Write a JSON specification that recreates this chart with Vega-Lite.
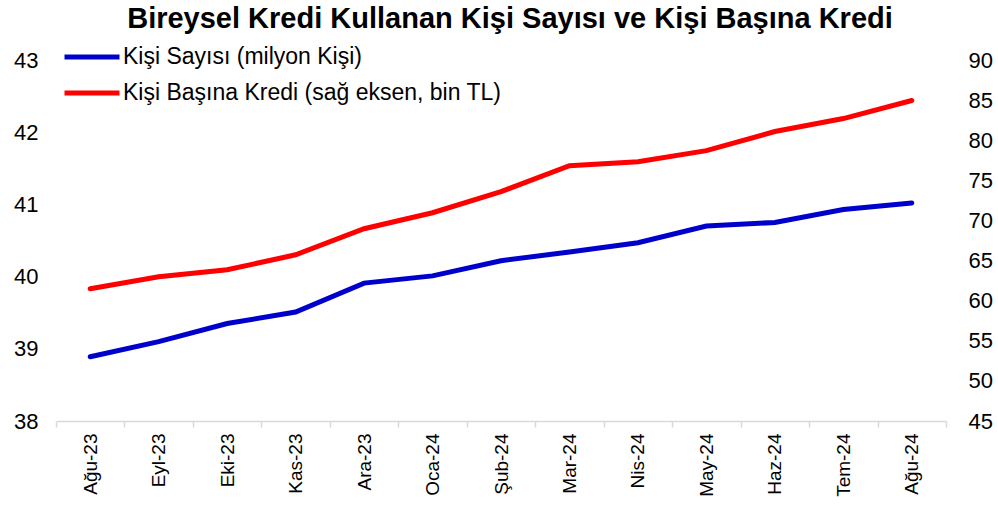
{
  "$schema": "https://vega.github.io/schema/vega-lite/v6.json",
  "autosize": {"type": "none"},
  "width": 890,
  "height": 361,
  "padding": {"left": 56, "top": 60, "right": 52, "bottom": 91},
  "background": "white",
  "title": {
    "text": "Bireysel Kredi Kullanan Kişi Sayısı ve Kişi Başına Kredi",
    "font": "Liberation Sans",
    "fontSize": 29,
    "fontWeight": "bold",
    "color": "black",
    "anchor": "middle",
    "dx": 9,
    "offset": 13
  },
  "config": {
    "view": {"stroke": null},
    "font": "Liberation Sans"
  },
  "data": {
    "values": [
      {"ay": "Ağu-23", "seri": "Kişi Sayısı (milyon Kişi)", "deger": 38.89},
      {"ay": "Eyl-23", "seri": "Kişi Sayısı (milyon Kişi)", "deger": 39.10},
      {"ay": "Eki-23", "seri": "Kişi Sayısı (milyon Kişi)", "deger": 39.35},
      {"ay": "Kas-23", "seri": "Kişi Sayısı (milyon Kişi)", "deger": 39.51},
      {"ay": "Ara-23", "seri": "Kişi Sayısı (milyon Kişi)", "deger": 39.91},
      {"ay": "Oca-24", "seri": "Kişi Sayısı (milyon Kişi)", "deger": 40.01},
      {"ay": "Şub-24", "seri": "Kişi Sayısı (milyon Kişi)", "deger": 40.22},
      {"ay": "Mar-24", "seri": "Kişi Sayısı (milyon Kişi)", "deger": 40.34},
      {"ay": "Nis-24", "seri": "Kişi Sayısı (milyon Kişi)", "deger": 40.47},
      {"ay": "May-24", "seri": "Kişi Sayısı (milyon Kişi)", "deger": 40.70},
      {"ay": "Haz-24", "seri": "Kişi Sayısı (milyon Kişi)", "deger": 40.75},
      {"ay": "Tem-24", "seri": "Kişi Sayısı (milyon Kişi)", "deger": 40.93},
      {"ay": "Ağu-24", "seri": "Kişi Sayısı (milyon Kişi)", "deger": 41.02},
      {"ay": "Ağu-23", "seri": "Kişi Başına Kredi (sağ eksen, bin TL)", "deger": 61.48},
      {"ay": "Eyl-23", "seri": "Kişi Başına Kredi (sağ eksen, bin TL)", "deger": 62.98},
      {"ay": "Eki-23", "seri": "Kişi Başına Kredi (sağ eksen, bin TL)", "deger": 63.85},
      {"ay": "Kas-23", "seri": "Kişi Başına Kredi (sağ eksen, bin TL)", "deger": 65.72},
      {"ay": "Ara-23", "seri": "Kişi Başına Kredi (sağ eksen, bin TL)", "deger": 68.97},
      {"ay": "Oca-24", "seri": "Kişi Başına Kredi (sağ eksen, bin TL)", "deger": 70.96},
      {"ay": "Şub-24", "seri": "Kişi Başına Kredi (sağ eksen, bin TL)", "deger": 73.59},
      {"ay": "Mar-24", "seri": "Kişi Başına Kredi (sağ eksen, bin TL)", "deger": 76.83},
      {"ay": "Nis-24", "seri": "Kişi Başına Kredi (sağ eksen, bin TL)", "deger": 77.33},
      {"ay": "May-24", "seri": "Kişi Başına Kredi (sağ eksen, bin TL)", "deger": 78.70},
      {"ay": "Haz-24", "seri": "Kişi Başına Kredi (sağ eksen, bin TL)", "deger": 81.08},
      {"ay": "Tem-24", "seri": "Kişi Başına Kredi (sağ eksen, bin TL)", "deger": 82.70},
      {"ay": "Ağu-24", "seri": "Kişi Başına Kredi (sağ eksen, bin TL)", "deger": 84.95}
    ]
  },
  "encoding": {
    "x": {
      "field": "ay",
      "type": "nominal",
      "sort": null,
      "scale": {"paddingInner": 0, "paddingOuter": 0},
      "axis": {
        "title": null,
        "labelAngle": 270,
        "labelFont": "Liberation Sans",
        "labelFontSize": 19,
        "labelColor": "black",
        "labelPadding": 6,
        "domainColor": "#d9d9d9",
        "domainWidth": 1.5,
        "tickColor": "#d9d9d9",
        "tickWidth": 1.5,
        "tickSize": 6,
        "tickBand": "extent",
        "grid": false
      }
    },
    "color": {
      "field": "seri",
      "type": "nominal",
      "scale": {
        "domain": ["Kişi Sayısı (milyon Kişi)", "Kişi Başına Kredi (sağ eksen, bin TL)"],
        "range": ["#0000CC", "#FF0000"]
      },
      "legend": {
        "title": null,
        "orient": "none",
        "legendX": 6,
        "legendY": -13,
        "symbolType": "stroke",
        "symbolSize": 3025,
        "symbolStrokeWidth": 5,
        "clipHeight": 20,
        "rowPadding": 13,
        "labelOffset": 1,
        "labelFont": "Liberation Sans",
        "labelFontSize": 23,
        "labelColor": "black",
        "labelLimit": 600
      }
    }
  },
  "layer": [
    {
      "transform": [{"filter": "datum.seri === 'Kişi Sayısı (milyon Kişi)'"}],
      "mark": {"type": "line", "strokeWidth": 5, "strokeCap": "round"},
      "encoding": {
        "y": {
          "field": "deger",
          "type": "quantitative",
          "scale": {"domain": [38, 43], "zero": false, "nice": false},
          "axis": {
            "title": null,
            "orient": "left",
            "values": [38, 39, 40, 41, 42, 43],
            "domain": false,
            "ticks": false,
            "grid": false,
            "labelFont": "Liberation Sans",
            "labelFontSize": 22,
            "labelColor": "black",
            "labelPadding": 18
          }
        }
      }
    },
    {
      "transform": [{"filter": "datum.seri === 'Kişi Başına Kredi (sağ eksen, bin TL)'"}],
      "mark": {"type": "line", "strokeWidth": 5, "strokeCap": "round"},
      "encoding": {
        "y": {
          "field": "deger",
          "type": "quantitative",
          "scale": {"domain": [45, 90], "zero": false, "nice": false},
          "axis": {
            "title": null,
            "orient": "right",
            "values": [45, 50, 55, 60, 65, 70, 75, 80, 85, 90],
            "domain": false,
            "ticks": false,
            "grid": false,
            "labelFont": "Liberation Sans",
            "labelFontSize": 22,
            "labelColor": "black",
            "labelPadding": 22
          }
        }
      }
    }
  ],
  "resolve": {"scale": {"y": "independent"}}
}
